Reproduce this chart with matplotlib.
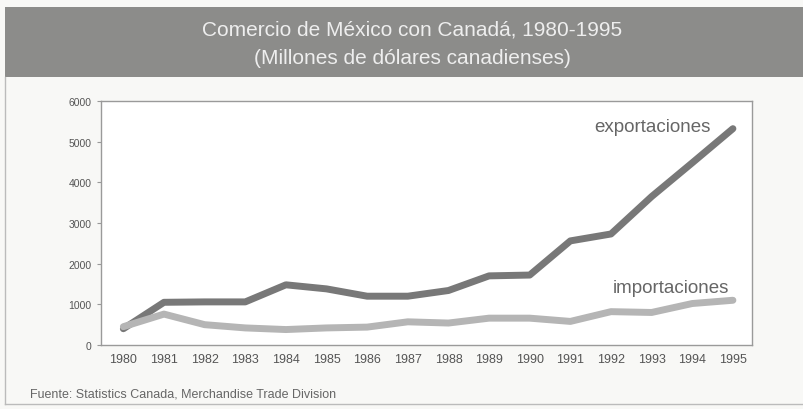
import matplotlib
matplotlib.use('Agg')
import matplotlib.pyplot as plt
from matplotlib.patches import Rectangle

anios = list(range(1980, 1996))
exportaciones = [400, 1050, 1060, 1060, 1480, 1380, 1200, 1200, 1340, 1700, 1720, 2560, 2730, 3650, 4480, 5320]
importaciones = [450, 760, 500, 420, 380, 420, 440, 570, 540, 660, 660, 580, 820, 800, 1020, 1100]
yticks = [0, 1000, 2000, 3000, 4000, 5000, 6000]

plt.rcParams['font.family'] = ['Liberation Sans Narrow', 'Liberation Sans', 'DejaVu Sans']

fig = plt.figure(figsize=(8.04, 4.10), dpi=100)
fig.patch.set_facecolor('#f8f8f6')

# banda gris del titulo
fig.patches.append(Rectangle((5/804, 1 - 78/410), 799/804, 70/410, transform=fig.transFigure,
                             facecolor='#8c8c8a', edgecolor='none', zorder=0))
fig.text(412/804, 1 - 30/410, 'Comercio de México con Canadá, 1980-1995', ha='center', va='center',
         color='#eeeeee', fontsize=15)
fig.text(412/804, 1 - 58/410, '(Millones de dólares canadienses)', ha='center', va='center',
         color='#eeeeee', fontsize=15)
# bordes del recuadro
fig.add_artist(plt.Line2D([5/804, 5/804], [1 - 78/410, 5/410], transform=fig.transFigure, color='#bbbbbb', lw=1))
fig.add_artist(plt.Line2D([5/804, 1], [5/410, 5/410], transform=fig.transFigure, color='#bbbbbb', lw=1))

ax = fig.add_axes([101/804, 1 - 346/410, 651/804, 244/410])
ax.set_facecolor('white')
ax.plot(anios, exportaciones, color='#787878', lw=5, solid_joinstyle='round', solid_capstyle='round')
ax.plot(anios, importaciones, color='#b5b5b5', lw=5, solid_joinstyle='round', solid_capstyle='round')

ax.set_xlim(1979.45, 1995.47)
ax.set_ylim(0, 6000)
ax.set_xticks(anios)
ax.set_xticklabels([str(a) for a in anios], fontsize=9, color='#555555')
ax.set_yticks(yticks)
ax.set_yticklabels([str(v) for v in yticks], fontsize=7.5, color='#555555')
ax.tick_params(axis='x', length=0, pad=6)
ax.tick_params(axis='y', length=3, color='#999999', pad=4)
for s in ax.spines.values():
    s.set_color('#9a9a9a')
    s.set_linewidth(1)

ax.text(1995 - 0.55, 5320 + 50, 'exportaciones', ha='right', va='center', fontsize=13.5, color='#666666')
ax.text(1994.9, 1100 + 320, 'importaciones', ha='right', va='center', fontsize=13.5, color='#666666')

fig.text(30/804, 1 - 395/410, 'Fuente: Statistics Canada, Merchandise Trade Division', ha='left', va='center',
         fontsize=9, color='#666666')

fig.savefig('out.png', dpi=100, facecolor=fig.get_facecolor())
